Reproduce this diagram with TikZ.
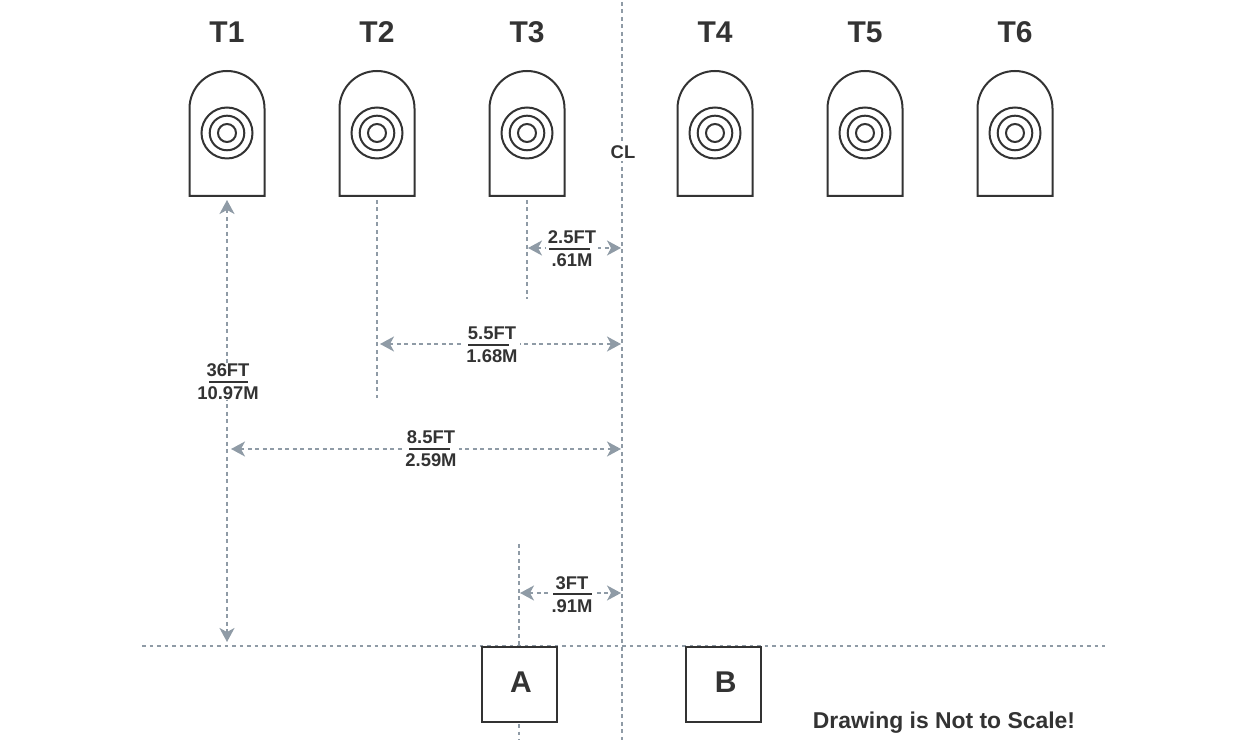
\documentclass[tikz,border=0pt]{standalone}
\usepackage{fontspec}
\setmainfont{Liberation Sans}
\usetikzlibrary{arrows.meta}

\definecolor{inkdark}{HTML}{333333}
\definecolor{guidegray}{HTML}{8F9BA6}

\tikzset{
    guide/.style={draw=guidegray, line width=0.9pt, dash pattern=on 1.8pt off 1.95pt},
    dimline/.style={guide, {Stealth[length=7pt,width=7.5pt,inset=2pt]}-{Stealth[length=7pt,width=7.5pt,inset=2pt]}},
    targetline/.style={draw=inkdark, line width=1pt},
    title/.style={text=inkdark, font=\fontsize{15}{18}\selectfont\bfseries},
    dimlabel/.style={fill=white, text=inkdark, align=center, inner xsep=1pt, inner ysep=0pt,
        font=\fontsize{9.2}{11.5}\selectfont\bfseries},
    fracrule/.style={draw=inkdark, line width=0.6pt},
    standbox/.style={draw=inkdark, line width=1pt, fill=white, text=inkdark, minimum size=37.5pt,
        inner sep=0pt, text depth=2pt, font=\fontsize{15}{18}\selectfont\bfseries},
}

\begin{document}
\begin{tikzpicture}[x=0.5pt, y=-0.5pt]
    \useasboundingbox (0,0) rectangle (1242,742);

    % Free ends of the guide lines
    \coordinate (clTop) at (622,2);
    \coordinate (clBottom) at (622,740);
    \coordinate (baseLeft) at (142,646);
    \coordinate (baseRight) at (1105,646);
    \coordinate (t2Top) at (377,200);
    \coordinate (t2Bottom) at (377,398);
    \coordinate (t3Top) at (527,200);
    \coordinate (t3Bottom) at (527,299);
    \coordinate (aTop) at (519,544);
    \coordinate (aBottom) at (519,740);

    % Guide lines
    \draw[guide] (clTop) -- (clBottom);
    \draw[guide] (baseLeft) -- (baseRight);
    \draw[guide] (t2Top) -- (t2Bottom);
    \draw[guide] (t3Top) -- (t3Bottom);
    \draw[guide] (aTop) -- (aBottom);

    \node[fill=white, text=inkdark, inner sep=1pt, font=\fontsize{9.2}{11}\selectfont\bfseries] (cl) at (623,152) {CL};

    % Targets
    \foreach \tname/\tx in {T1/227, T2/377, T3/527, T4/715, T5/865, T6/1015} {
        \node[title] (\tname) at (\tx,32) {\tname};
        \draw[targetline] (\tx-37.5,196) -- (\tx-37.5,108.5) arc[start angle=180, end angle=360, radius=37.5]
            -- (\tx+37.5,196) -- cycle;
        \foreach \r in {25.5, 17.3, 9} {
            \draw[targetline] (\tx,133) circle[radius=\r];
        }
    }

    % Stands
    \node[standbox] (standA) at (519.5,684) {\kern1.5pt A};
    \node[standbox] (standB) at (723.75,684) {\kern2pt B};

    % Dimensions
    \coordinate (d1Top) at (227,200);
    \coordinate (d1Bottom) at (227,642);
    \draw[dimline] (d1Top) -- (d1Bottom);

    \coordinate (d2Left) at (528,248);
    \coordinate (d2Right) at (621,248);
    \draw[dimline] (d2Left) -- (d2Right);

    \coordinate (d3Left) at (380,344);
    \coordinate (d3Right) at (621,344);
    \draw[dimline] (d3Left) -- (d3Right);

    \coordinate (d4Left) at (231,449);
    \coordinate (d4Right) at (621,449);
    \draw[dimline] (d4Left) -- (d4Right);

    \coordinate (d5Left) at (520,593);
    \coordinate (d5Right) at (621,593);
    \draw[dimline] (d5Left) -- (d5Right);

    % Dimension labels
    \node[dimlabel] (lbl36) at (228,382) {36FT\\10.97M};
    \draw[fracrule] (lbl36.center) ++(-19,0) -- ++(39,0);

    \node[dimlabel] (lbl25) at (572,249) {2.5FT\\.61M};
    \draw[fracrule] (lbl25.center) ++(-23,0) -- ++(41,0);

    \node[dimlabel] (lbl55) at (492,345) {5.5FT\\1.68M};
    \draw[fracrule] (lbl55.center) ++(-24,0) -- ++(41,0);

    \node[dimlabel] (lbl85) at (431,449) {8.5FT\\2.59M};
    \draw[fracrule] (lbl85.center) ++(-22,0) -- ++(41,0);

    \node[dimlabel] (lbl3) at (572,595) {3FT\\.91M};
    \draw[fracrule] (lbl3.center) ++(-19,-1) -- ++(39,0);

    \node[text=inkdark, font=\fontsize{11.45}{13}\selectfont\bfseries] (note) at (944,723) {Drawing is Not to Scale!};
\end{tikzpicture}
\end{document}
